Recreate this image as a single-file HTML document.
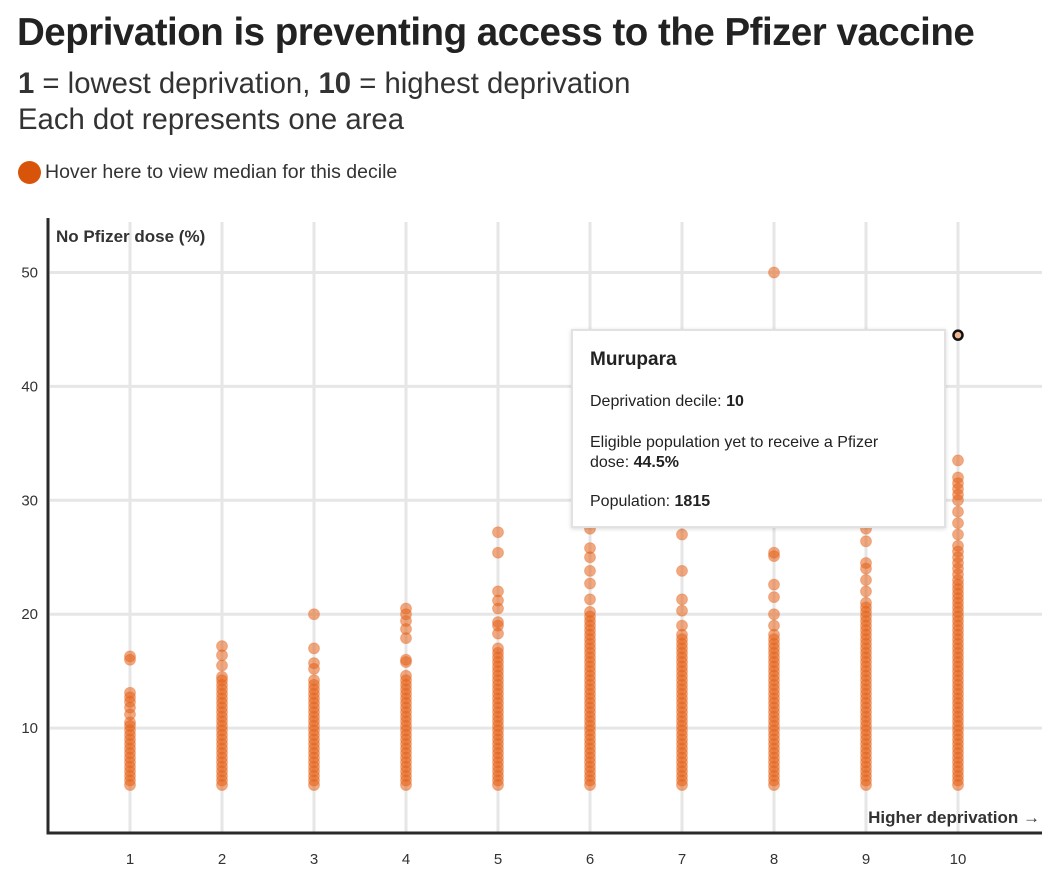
<!DOCTYPE html>
<html><head><meta charset="utf-8">
<style>
body{margin:0;background:#fff;font-family:"Liberation Sans",sans-serif;color:#222;}
#wrap{position:relative;width:1050px;height:880px;overflow:hidden;}
h1{position:absolute;left:17px;top:11px;margin:0;font-size:38.5px;font-weight:bold;letter-spacing:-0.5px;color:#222;}
.sub{position:absolute;left:18px;font-size:29.3px;color:#333;}
#legend{position:absolute;left:18px;top:161px;font-size:19.5px;color:#333;}
#legend span.dot{display:inline-block;width:23px;height:23px;border-radius:50%;background:#d9540b;vertical-align:middle;margin-right:4px;}
#tip{position:absolute;left:571px;top:329px;width:371px;height:195px;background:#fff;border:2px solid #e2e2e2;box-shadow:0 1px 4px rgba(0,0,0,.15);font-size:16px;color:#222;}
#tip div{position:absolute;left:17px;}
</style></head><body>
<div id="wrap">
<h1>Deprivation is preventing access to the Pfizer vaccine</h1>
<div class="sub" style="top:67px"><b>1</b> = lowest deprivation, <b>10</b> = highest deprivation</div>
<div class="sub" style="top:103px">Each dot represents one area</div>
<div id="legend"><span class="dot"></span>Hover here to view median for this decile</div>
<svg id="chart" width="1050" height="880" style="position:absolute;left:0;top:0"></svg>
<div id="tip">
<div style="top:18px;font-size:19px;font-weight:bold">Murupara</div>
<div style="top:62px">Deprivation decile: <b>10</b></div>
<div style="top:102px;width:325px;line-height:20px">Eligible population yet to receive a Pfizer dose: <b>44.5%</b></div>
<div style="top:162px">Population: <b>1815</b></div>
</div>
</div>
<script>
const deciles=[1,2,3,4,5,6,7,8,9,10];
const yTicks=[10,20,30,40,50];
const d1=[5,5.4,5.8,6.2,6.6,7,7.4,7.8,8.2,8.6,9,9.4,9.8,10.2,10.5,11.2,11.8,12.3,12.7,13.1,16,16.3];
const d2=[5,5.4,5.8,6.2,6.6,7,7.4,7.8,8.2,8.6,9,9.4,9.8,10.2,10.6,11,11.4,11.8,12.2,12.6,13,13.4,13.8,14.2,14.5,15.5,16.4,17.2];
const d3=[5,5.4,5.8,6.2,6.6,7,7.4,7.8,8.2,8.6,9,9.4,9.8,10.2,10.6,11,11.4,11.8,12.2,12.6,13,13.4,13.8,14.2,15.2,15.7,17,20];
const d4=[5,5.4,5.8,6.2,6.6,7,7.4,7.8,8.2,8.6,9,9.4,9.8,10.2,10.6,11,11.4,11.8,12.2,12.6,13,13.4,13.8,14.2,14.6,15.8,16,17.9,18.7,19.4,20,20.5];
const d5=[5,5.4,5.8,6.2,6.6,7,7.4,7.8,8.2,8.6,9,9.4,9.8,10.2,10.6,11,11.4,11.8,12.2,12.6,13,13.4,13.8,14.2,14.6,15,15.4,15.8,16.2,16.6,17,18.3,19,19.3,20.5,21.2,22,25.4,27.2];
const d6=[5,5.4,5.8,6.2,6.6,7,7.4,7.8,8.2,8.6,9,9.4,9.8,10.2,10.6,11,11.4,11.8,12.2,12.6,13,13.4,13.8,14.2,14.6,15,15.4,15.8,16.2,16.6,17,17.4,17.8,18.2,18.6,19,19.4,19.8,20.2,21.3,22.7,23.8,25,25.8,27.5];
const d7=[5,5.4,5.8,6.2,6.6,7,7.4,7.8,8.2,8.6,9,9.4,9.8,10.2,10.6,11,11.4,11.8,12.2,12.6,13,13.4,13.8,14.2,14.6,15,15.4,15.8,16.2,16.6,17,17.4,17.8,18.2,19,20.3,21.3,23.8,27];
const d8=[5,5.4,5.8,6.2,6.6,7,7.4,7.8,8.2,8.6,9,9.4,9.8,10.2,10.6,11,11.4,11.8,12.2,12.6,13,13.4,13.8,14.2,14.6,15,15.4,15.8,16.2,16.6,17,17.4,17.8,18.2,19,20,21.5,22.6,25.1,25.4,50];
const d9=[5,5.4,5.8,6.2,6.6,7,7.4,7.8,8.2,8.6,9,9.4,9.8,10.2,10.6,11,11.4,11.8,12.2,12.6,13,13.4,13.8,14.2,14.6,15,15.4,15.8,16.2,16.6,17,17.4,17.8,18.2,18.6,19,19.4,19.8,20.2,20.6,21,22,23,24,24.5,26.4,27.5];
const d10=[5,5.4,5.8,6.2,6.6,7,7.4,7.8,8.2,8.6,9,9.4,9.8,10.2,10.6,11,11.4,11.8,12.2,12.6,13,13.4,13.8,14.2,14.6,15,15.4,15.8,16.2,16.6,17,17.4,17.8,18.2,18.6,19,19.4,19.8,20.2,20.6,21,21.4,21.8,22.2,22.6,23,23.5,24,24.5,25,25.5,26,27,28,29,30,30.5,31,31.5,32,33.5];
const series=[d1,d2,d3,d4,d5,d6,d7,d8,d9,d10];
const highlight={decile:10,value:44.5};

const NS="http://www.w3.org/2000/svg";
const svg=document.getElementById('chart');
const x=d=>130+(d-1)*92;
const y=v=>842-v*11.39;
function mk(t,a){const e=document.createElementNS(NS,t);for(const k in a)e.setAttribute(k,a[k]);svg.appendChild(e);return e;}
deciles.forEach(d=>{
  const l=mk('line',{x1:x(d),x2:x(d),y1:222,y2:832,stroke:'#e6e6e6','stroke-width':3});
  
  
  const t=mk('text',{x:x(d),y:864,'text-anchor':'middle','font-size':15,fill:'#333'});
  t.textContent=d;
  
  
});
yTicks.forEach(v=>{
  const l=mk('line',{x1:50,x2:1042,y1:y(v),y2:y(v),stroke:'#e6e6e6','stroke-width':3});
  
  
  const t=mk('text',{x:38,y:y(v)+5,'text-anchor':'end','font-size':15,fill:'#333'});
  t.textContent=v;
  
  
});
const ax=mk('path',{d:'M48,218 V833 H1042',stroke:'#2a2a2a','stroke-width':3,fill:'none'});


const yt=mk('text',{x:56,y:242,'font-size':17,'font-weight':'bold',fill:'#333'});
yt.textContent='No Pfizer dose (%)';


const xt=mk('text',{x:1040,y:823,'text-anchor':'end','font-size':17,'font-weight':'bold',fill:'#333'});
xt.textContent='Higher deprivation \u2192';


series.forEach((vals,i)=>{
  vals.forEach(v=>{
    const c=mk('circle',{cx:x(deciles[i]),cy:y(v),r:5.5,fill:'#e5631a','fill-opacity':0.55,stroke:'#e5631a','stroke-opacity':0.3,'stroke-width':1});
    
    
  });
});
const h=mk('circle',{cx:x(highlight.decile),cy:y(highlight.value),r:4.5,fill:'#f0b48e',stroke:'#111','stroke-width':2.5});


</script>
</body></html>
